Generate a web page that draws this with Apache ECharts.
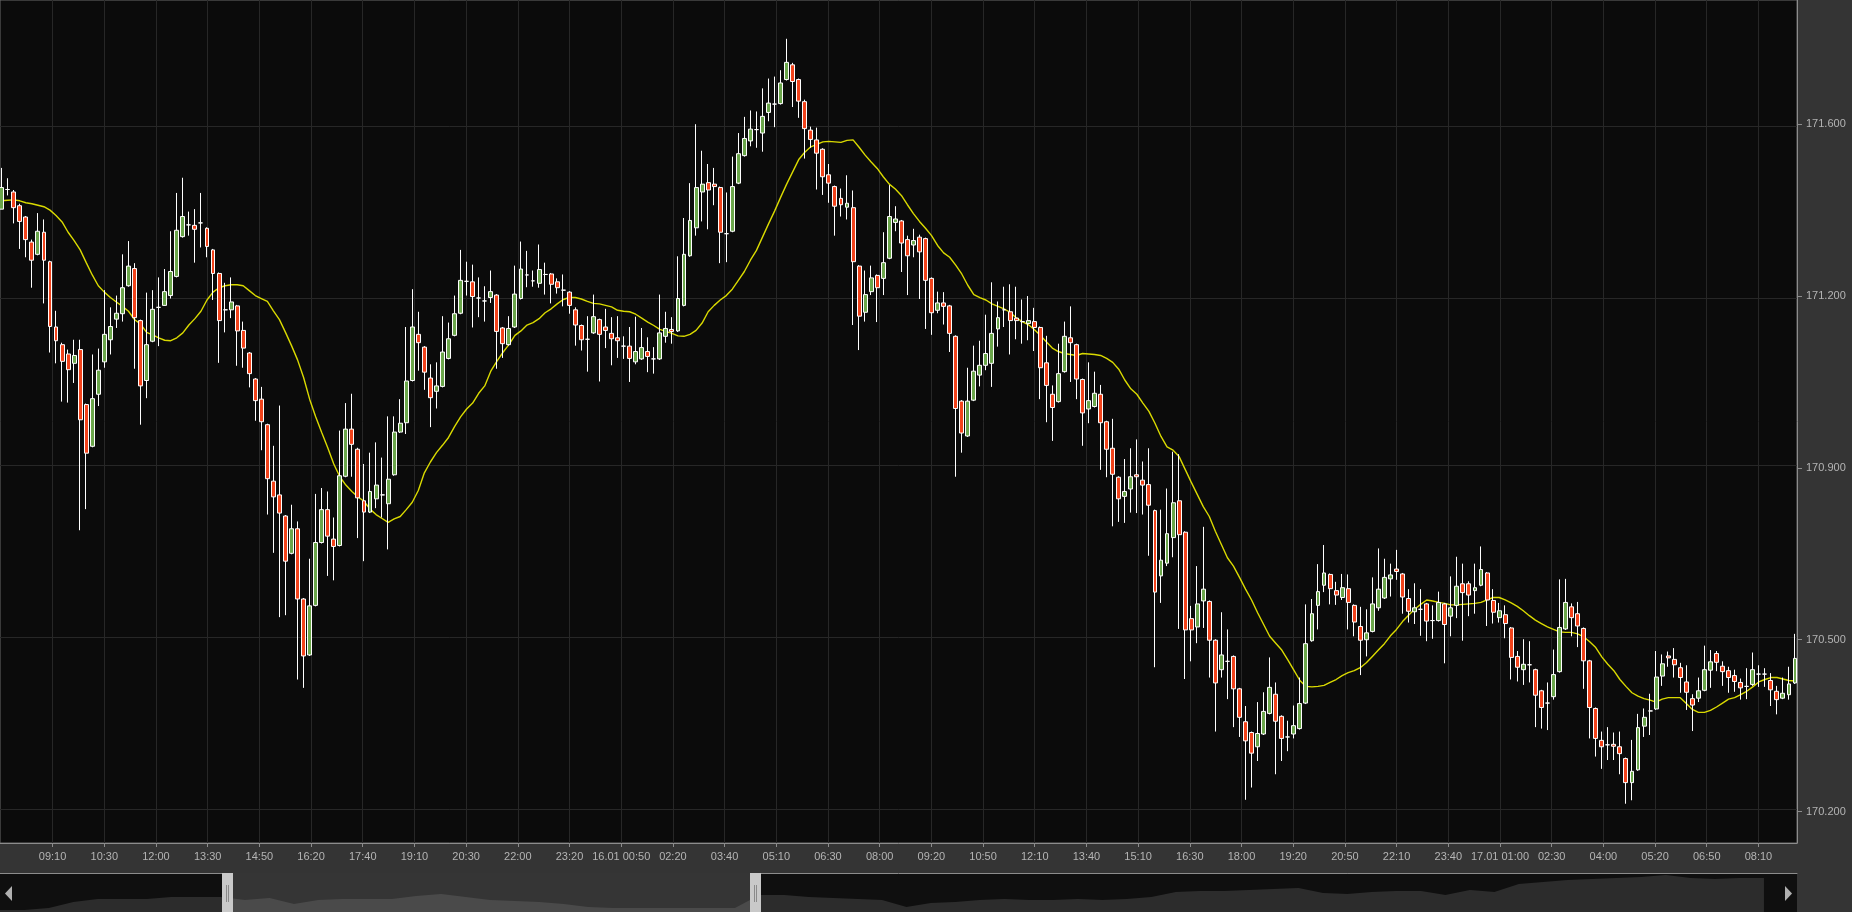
<!DOCTYPE html>
<html>
<head>
<meta charset="utf-8">
<script src="https://cdn.jsdelivr.net/npm/echarts@6/dist/echarts.min.js"></script>
<style>
html,body{margin:0;padding:0;background:#343434;overflow:hidden;}
#chart{width:1852px;height:912px;}
</style>
</head>
<body>
<div id="chart"></div>
<script>
// ---- time base: 10-minute candles starting 15.01 07:50 ----
const startTime = Date.UTC(2024, 0, 15, 7, 50);
const candleMinutes = 10;

const opens = [
171.402,171.442,171.437,171.409,171.386,171.335,171.310,171.355,171.295,171.162,
171.126,171.107,171.088,171.116,171.004,170.919,171.025,171.091,171.136,171.178,
171.189,171.246,171.281,171.175,171.053,171.133,171.202,171.206,171.226,171.265,
171.346,171.370,171.369,171.374,171.363,171.319,171.271,171.197,171.197,171.205,
171.155,171.109,171.056,171.015,170.963,170.848,170.820,170.777,170.701,170.751,
170.608,170.494,170.595,170.723,170.790,170.730,170.717,170.858,170.954,170.913,
170.808,170.785,170.812,170.820,170.802,170.861,170.948,170.967,171.053,171.147,
171.121,171.058,171.031,171.041,171.098,171.145,171.190,171.255,171.254,171.221,
171.215,171.222,171.227,171.160,171.126,171.162,171.220,171.268,171.256,171.251,
171.269,171.270,171.254,171.237,171.233,171.197,171.165,171.137,171.150,171.177,
171.162,171.149,171.140,171.123,171.123,171.091,171.097,171.112,171.097,171.097,
171.143,171.157,171.154,171.206,171.307,171.364,171.437,171.456,171.453,171.446,
171.352,171.357,171.455,171.511,171.541,171.564,171.557,171.599,171.616,171.617,
171.666,171.696,171.666,171.621,171.563,171.543,171.524,171.472,171.448,171.424,
171.406,171.405,171.286,171.192,171.234,171.267,171.261,171.302,171.375,171.378,
171.340,171.329,171.345,171.342,171.261,171.196,171.211,171.205,171.143,171.011,
170.940,171.013,171.064,171.084,171.088,171.158,171.197,171.193,171.180,171.173,
171.169,171.173,171.161,171.089,171.025,171.010,171.071,171.140,171.126,171.055,
170.995,171.000,171.025,170.969,170.915,170.856,170.817,170.832,170.861,170.850,
170.841,170.788,170.655,170.681,170.733,170.808,170.744,170.568,170.551,170.604,
170.603,170.524,170.464,170.481,170.491,170.425,170.358,170.336,170.307,170.333,
170.375,170.414,170.369,170.327,170.333,170.344,170.396,170.523,170.595,170.636,
170.658,170.625,170.611,170.629,170.595,170.552,170.525,170.542,170.590,170.610,
170.649,170.669,170.659,170.609,170.582,170.587,170.598,170.564,170.564,170.598,
170.573,170.595,170.639,170.639,170.625,170.636,170.661,170.605,170.570,170.576,
170.549,170.491,170.464,170.474,170.464,170.421,170.396,170.409,170.460,170.547,
170.592,170.578,170.548,170.482,170.385,170.320,170.311,170.312,170.307,170.283,
170.234,170.260,170.349,170.380,170.384,170.451,170.492,170.485,170.468,170.439,
170.405,170.406,170.422,170.463,170.497,170.471,170.462,170.452,170.438,170.430,
170.434,170.455,170.455,170.442,170.420,170.406,170.413,170.437
];

const closes = [
171.446,171.442,171.405,171.377,171.340,171.298,171.357,171.298,171.163,171.134,
171.092,171.075,171.104,170.973,170.905,171.016,171.074,171.147,171.163,171.190,
171.242,171.286,171.181,171.042,171.126,171.198,171.202,171.234,171.275,171.359,
171.387,171.370,171.361,171.374,171.326,171.271,171.175,171.197,171.213,171.154,
171.119,171.067,171.012,170.969,170.853,170.816,170.783,170.685,170.751,170.608,
170.492,170.594,170.723,170.790,170.736,170.715,170.859,170.954,170.923,170.814,
170.785,170.827,170.840,170.820,170.852,170.948,170.966,171.052,171.162,171.130,
171.070,171.018,171.042,171.111,171.138,171.189,171.257,171.255,171.224,171.221,
171.215,171.234,171.153,171.128,171.159,171.229,171.280,171.268,171.256,171.279,
171.269,171.249,171.242,171.237,171.206,171.166,171.136,171.137,171.183,171.147,
171.155,171.138,171.134,171.123,171.098,171.112,171.120,171.102,171.097,171.150,
171.159,171.153,171.220,171.310,171.379,171.446,171.453,171.441,171.448,171.355,
171.352,171.448,171.515,171.546,171.565,171.564,171.591,171.618,171.616,171.659,
171.701,171.662,171.622,171.566,171.544,171.516,171.468,171.455,171.408,171.411,
171.414,171.295,171.184,171.228,171.262,171.242,171.293,171.387,171.382,171.333,
171.307,171.338,171.315,171.257,171.191,171.211,171.204,171.149,170.996,170.946,
171.011,171.072,171.084,171.108,171.149,171.181,171.197,171.175,171.175,171.173,
171.175,171.161,171.079,171.043,170.998,171.067,171.143,171.130,171.056,170.987,
171.012,171.027,170.967,170.913,170.862,170.812,170.827,170.857,170.857,170.840,
170.799,170.622,170.687,170.741,170.804,170.739,170.545,170.545,170.598,170.628,
170.524,170.437,170.494,170.481,170.425,170.367,170.319,170.294,170.334,170.379,
170.428,170.359,170.324,170.327,170.350,170.395,170.517,170.578,170.623,170.661,
170.629,170.616,170.631,170.601,170.561,170.524,170.539,170.598,170.628,170.652,
170.657,170.664,170.612,170.583,170.590,170.587,170.563,170.564,170.601,170.556,
170.590,170.634,170.621,170.616,170.631,170.668,170.606,170.581,170.584,170.558,
170.489,170.469,170.475,170.474,170.412,170.387,170.396,170.454,170.550,170.601,
170.570,170.553,170.482,170.387,170.324,170.307,170.311,170.308,170.293,170.234,
170.257,170.346,170.367,170.380,170.449,170.476,170.488,170.474,170.448,170.418,
170.392,170.421,170.464,170.480,170.479,170.460,170.448,170.440,170.427,170.430,
170.464,170.455,170.455,170.423,170.403,170.416,170.435,170.487
];

const lows = [
171.402,171.430,171.373,171.321,171.304,171.242,171.308,171.210,171.110,171.088,
171.010,171.008,171.048,170.748,170.791,170.917,171.001,171.079,171.106,171.160,
171.173,171.244,171.077,170.963,171.017,171.131,171.123,171.205,171.220,171.263,
171.344,171.348,171.293,171.324,171.304,171.217,171.089,171.151,171.180,171.083,
171.079,171.039,170.971,170.911,170.780,170.702,170.571,170.575,170.699,170.444,
170.427,170.492,170.593,170.721,170.655,170.646,170.715,170.856,170.857,170.732,
170.685,170.783,170.793,170.774,170.709,170.859,170.946,170.944,171.051,171.073,
171.034,170.958,170.996,171.039,171.096,171.143,171.188,171.226,171.161,171.182,
171.173,171.211,171.077,171.099,171.124,171.160,171.218,171.243,171.244,171.242,
171.228,171.210,171.230,171.204,171.189,171.124,171.114,171.071,171.148,171.051,
171.119,171.084,171.099,171.097,171.050,171.086,171.095,171.070,171.067,171.095,
171.130,171.128,171.152,171.204,171.305,171.348,171.377,171.361,171.410,171.292,
171.294,171.355,171.453,171.509,171.530,171.527,171.519,171.581,171.569,171.615,
171.664,171.610,171.588,171.505,171.527,171.442,171.431,171.415,171.348,171.387,
171.381,171.166,171.115,171.173,171.227,171.172,171.227,171.300,171.357,171.274,
171.227,171.304,171.219,171.158,171.146,171.190,171.167,171.111,170.857,170.906,
170.938,171.011,171.041,171.074,171.040,171.122,171.162,171.106,171.137,171.128,
171.135,171.113,171.015,170.968,170.930,171.008,171.069,171.050,171.015,170.920,
170.966,170.998,170.871,170.856,170.756,170.765,170.763,170.784,170.783,170.780,
170.696,170.469,170.600,170.675,170.693,170.547,170.445,170.481,170.518,170.549,
170.448,170.338,170.448,170.404,170.347,170.327,170.199,170.224,170.278,170.331,
170.373,170.251,170.278,170.298,170.324,170.342,170.394,170.521,170.546,170.622,
170.597,170.596,170.606,170.546,170.532,170.453,170.491,170.540,170.584,170.608,
170.613,170.647,170.578,170.560,170.557,170.533,170.522,170.527,170.562,170.477,
170.532,170.569,170.523,170.573,170.578,170.634,170.553,170.558,170.560,170.528,
170.444,170.440,170.433,170.438,170.347,170.344,170.341,170.403,170.458,170.545,
170.532,170.510,170.425,170.324,170.287,170.262,170.280,170.280,170.251,170.191,
170.198,170.258,170.327,170.331,170.382,170.431,170.470,170.448,170.417,170.382,
170.339,170.398,170.420,170.427,170.461,170.431,170.417,170.419,170.403,170.404,
170.431,170.429,170.429,170.390,170.373,170.404,170.403,170.435
];

const highs = [
171.486,171.465,171.441,171.413,171.388,171.340,171.394,171.381,171.297,171.195,
171.130,171.116,171.136,171.136,171.006,171.106,171.118,171.237,171.202,171.226,
171.310,171.337,171.292,171.177,171.232,171.237,171.263,171.280,171.357,171.435,
171.466,171.397,171.402,171.435,171.365,171.321,171.273,171.252,171.263,171.207,
171.173,171.111,171.058,171.040,170.965,170.920,171.002,170.779,170.800,170.766,
170.610,170.690,170.822,170.834,170.827,170.774,170.951,171.007,171.026,170.916,
170.883,170.906,170.927,170.896,170.980,170.980,171.015,171.162,171.239,171.193,
171.123,171.086,171.090,171.184,171.171,171.226,171.319,171.295,171.289,171.263,
171.245,171.277,171.229,171.162,171.184,171.287,171.336,171.317,171.277,171.330,
171.293,171.272,171.261,171.269,171.235,171.202,171.167,171.184,171.228,171.179,
171.199,171.182,171.184,171.143,171.162,171.183,171.160,171.141,171.121,171.228,
171.193,171.182,171.306,171.384,171.455,171.575,171.521,171.494,171.486,171.448,
171.436,171.509,171.557,171.590,171.603,171.601,171.648,171.668,171.672,171.685,
171.749,171.700,171.668,171.625,171.570,171.568,171.526,171.494,171.450,171.444,
171.471,171.440,171.288,171.277,171.287,171.269,171.355,171.451,171.408,171.380,
171.348,171.362,171.350,171.344,171.263,171.234,171.233,171.207,171.145,171.013,
171.079,171.124,171.134,171.187,171.253,171.214,171.244,171.249,171.244,171.218,
171.225,171.201,171.163,171.144,171.043,171.128,171.173,171.204,171.128,171.057,
171.090,171.071,171.044,170.971,170.975,170.858,170.893,170.915,170.933,170.888,
170.915,170.790,170.790,170.833,170.908,170.903,170.746,170.594,170.675,170.755,
170.605,170.526,170.581,170.546,170.493,170.427,170.390,170.338,170.398,170.418,
170.489,170.438,170.371,170.360,170.391,170.448,170.597,170.608,170.679,170.718,
170.660,170.643,170.659,170.658,170.597,170.592,170.587,170.652,170.711,170.690,
170.680,170.708,170.661,170.628,170.640,170.628,170.600,170.595,170.623,170.600,
170.654,170.694,170.680,170.644,170.680,170.715,170.663,170.628,170.600,170.595,
170.551,170.502,170.526,170.522,170.466,170.423,170.438,170.505,170.648,170.649,
170.599,170.602,170.550,170.484,170.387,170.338,170.347,170.336,170.338,170.285,
170.321,170.374,170.385,170.415,170.502,170.495,170.501,170.508,170.478,170.473,
170.414,170.448,170.513,170.504,170.502,170.481,170.470,170.464,170.446,170.467,
170.499,170.473,170.467,170.457,170.431,170.448,170.470,170.537
];

// yellow moving-average line at each candle
const maValues = [
171.419,171.420,171.421,171.419,171.415,171.413,171.410,171.407,171.400,171.389,
171.376,171.355,171.338,171.319,171.293,171.268,171.246,171.233,171.222,171.213,
171.204,171.194,171.177,171.168,171.151,171.146,171.140,171.135,171.134,171.140,
171.150,171.166,171.179,171.194,171.217,171.233,171.242,171.246,171.248,171.248,
171.246,171.236,171.226,171.220,171.214,171.195,171.177,171.151,171.124,171.095,
171.059,171.015,170.979,170.947,170.916,170.883,170.857,170.840,170.827,170.816,
170.807,170.791,170.780,170.772,170.764,170.771,170.776,170.790,170.805,170.829,
170.865,170.887,170.906,170.921,170.937,170.959,170.979,170.995,171.007,171.027,
171.042,171.072,171.092,171.110,171.126,171.145,171.154,171.166,171.171,171.179,
171.191,171.199,171.209,171.218,171.222,171.222,171.219,171.214,171.210,171.209,
171.206,171.203,171.196,171.194,171.193,171.188,171.180,171.172,171.165,171.157,
171.153,171.149,171.144,171.143,171.147,171.155,171.170,171.193,171.206,171.217,
171.226,171.239,171.257,171.275,171.298,171.318,171.345,171.372,171.398,171.426,
171.453,171.478,171.503,171.518,171.529,171.534,171.539,171.540,171.539,171.538,
171.542,171.543,171.528,171.512,171.498,171.485,171.468,171.453,171.443,171.430,
171.411,171.393,171.377,171.363,171.348,171.328,171.313,171.304,171.288,171.270,
171.247,171.228,171.222,171.217,171.209,171.204,171.199,171.192,171.181,171.173,
171.167,171.157,171.145,171.132,171.119,171.112,171.108,171.106,171.104,171.108,
171.107,171.106,171.104,171.098,171.090,171.076,171.054,171.036,171.025,171.007,
170.990,170.966,170.939,170.918,170.911,170.898,170.872,170.846,170.821,170.796,
170.776,170.746,170.719,170.692,170.675,170.652,170.628,170.606,170.580,170.556,
170.532,170.518,170.504,170.484,170.463,170.442,170.430,170.429,170.430,170.432,
170.438,170.444,170.452,170.458,170.462,170.468,170.478,170.491,170.504,170.517,
170.533,170.546,170.562,170.575,170.587,170.597,170.606,170.604,170.601,170.599,
170.596,170.596,170.597,170.598,170.599,170.601,170.606,170.611,170.611,170.606,
170.600,170.593,170.584,170.574,170.565,170.558,170.551,170.546,170.541,170.540,
170.540,170.537,170.531,170.521,170.509,170.490,170.475,170.462,170.444,170.430,
170.417,170.410,170.405,170.402,170.398,170.404,170.407,170.407,170.407,170.395,
170.383,170.377,170.377,170.381,170.388,170.396,170.404,170.407,170.413,170.420,
170.429,170.439,170.444,170.448,170.448,170.445,170.442,170.441
];

// axis tick labels
const xTickLabels = ['09:10','10:30','12:00','13:30','14:50','16:20','17:40','19:10','20:30','22:00','23:20',
  '16.01 00:50','02:20','03:40','05:10','06:30','08:00','09:20','10:50','12:10','13:40','15:10','16:30',
  '18:00','19:20','20:50','22:10','23:40','17.01 01:00','02:30','04:00','05:20','06:50','08:10'];
const xTickFirstMinutes = 84.3;   // first label's tick, minutes after first candle
const xTickStepMinutes = 85.61;   // label spacing in minutes
const yTickValues = [170.175, 170.525, 170.875, 171.225, 171.575];
const yTickLabels = ['170.200', '170.500', '170.900', '171.200', '171.600'];

// navigator (scroller) history level and selected range
const navigatorValues = [2,2,4,10,13,13,13,15,15,15,12,14,8,12,13,13,13,16,18,15,12,11,10,8,5,4,4,4,4,4,
  4,17,17,15,14,13,12,5,9,10,12,13,12,12,13,12,13,15,20,21,21,22,23,24,19,18,20,21,21,17,
  22,20,28,30,32,33,34,35,37,34,33,34,34];
const navigatorRange = [9.26, 30.84];

const MIN = 60000;
const times = opens.map((_, i) => startTime + i * candleMinutes * MIN);
const candleData = times.map((t, i) => [t, opens[i], closes[i], lows[i], highs[i]]);
const maData = times.map((t, i) => [t, maValues[i]]);
const xTickValues = xTickLabels.map((_, k) => startTime + (xTickFirstMinutes + k * xTickStepMinutes) * MIN);
const navData = navigatorValues.map((v, k) => [k, v]);

function nearestIndex(arr, v) {
  let best = 0, bd = Infinity;
  arr.forEach((a, i) => { const d = Math.abs(a - v); if (d < bd) { bd = d; best = i; } });
  return best;
}

const axisGray = '#8c8c8c';
const labelGray = '#b4b4b4';
const gridLine = '#272727';
const font = '"Liberation Sans", Arial, sans-serif';

const chart = echarts.init(document.getElementById('chart'), null, {renderer: 'canvas'});
chart.setOption({
  backgroundColor: '#343434',
  animation: false,
  grid: [
    {left: 0, top: 0, width: 1797, height: 843, show: true, backgroundColor: '#0b0b0b', borderColor: '#6a6a6a', borderWidth: 1},
    {left: 0, top: 873, width: 1797, height: 39, show: true, backgroundColor: '#0f0f0f', borderWidth: 0}
  ],
  xAxis: [
    {
      type: 'value', gridIndex: 0, scale: true,
      min: startTime - 2.8 * MIN, max: startTime + 2973.3 * MIN,
      axisLine: {show: true, onZero: false, lineStyle: {color: axisGray, width: 1}},
      axisTick: {show: true, length: 4, lineStyle: {color: axisGray}, customValues: xTickValues},
      axisLabel: {
        customValues: xTickValues,
        formatter: v => xTickLabels[nearestIndex(xTickValues, v)],
        color: labelGray, fontSize: 11, fontFamily: font, margin: 8
      },
      splitLine: {show: false}
    },
    {
      type: 'value', gridIndex: 1, min: 0, max: 73.35, position: 'top',
      axisLine: {show: true, onZero: false, lineStyle: {color: axisGray}},
      axisTick: {show: false}, axisLabel: {show: false}, splitLine: {show: false}
    }
  ],
  yAxis: [
    {
      type: 'value', gridIndex: 0, position: 'right', scale: true,
      min: 170.111, max: 171.828,
      axisLine: {show: true, onZero: false, lineStyle: {color: axisGray}},
      axisTick: {show: true, length: 5, inside: false, lineStyle: {color: axisGray}, customValues: yTickValues},
      axisLabel: {
        customValues: yTickValues,
        formatter: v => yTickLabels[nearestIndex(yTickValues, v)],
        color: labelGray, fontSize: 11, fontFamily: font, margin: 9
      },
      splitLine: {show: false}
    },
    {type: 'value', gridIndex: 1, min: 0, max: 39, show: false}
  ],
  visualMap: [{
    type: 'piecewise', show: false, seriesIndex: 2, dimension: 0,
    pieces: [
      {lt: navigatorRange[0], color: '#2c2c2c'},
      {gte: navigatorRange[0], lte: navigatorRange[1], color: '#4a4a4a'},
      {gt: navigatorRange[1], color: '#2c2c2c'}
    ]
  }],
  series: [
    {
      name: 'MA', type: 'line', xAxisIndex: 0, yAxisIndex: 0, data: maData,
      symbol: 'none', smooth: false, z: 2, silent: true,
      lineStyle: {color: '#dada00', width: 1.4},
      // grid lines at the axis ticks
      markLine: {
        silent: true, z: 1, symbol: ['none', 'none'], animation: false,
        label: {show: false},
        lineStyle: {color: gridLine, width: 1, type: 'solid'},
        data: xTickValues.map(v => ({xAxis: v})).concat(yTickValues.map(v => ({yAxis: v})))
      }
    },
    {
      name: 'Price', type: 'candlestick', xAxisIndex: 0, yAxisIndex: 0, data: candleData,
      barWidth: 4.4, z: 3, clip: true, silent: true,
      itemStyle: {
        color: '#6ba64b', color0: '#f2431b',
        borderColor: '#ffffff', borderColor0: '#ffffff', borderColorDoji: '#ffffff',
        borderWidth: 1
      }
    },
    {
      name: 'Navigator', type: 'line', xAxisIndex: 1, yAxisIndex: 1, data: navData,
      symbol: 'none', silent: true, z: 2,
      lineStyle: {opacity: 0, width: 0},
      areaStyle: {opacity: 1},
      markArea: {
        silent: true, z: 1,
        itemStyle: {color: '#353535'},
        data: [[{xAxis: navigatorRange[0]}, {xAxis: navigatorRange[1]}]]
      },
      markLine: {
        silent: true, symbol: ['none', 'none'], z: 5,
        label: {show: false},
        lineStyle: {color: '#c9c9c9', width: 11, type: 'solid', opacity: 1},
        data: [
          {xAxis: navigatorRange[0]},
          {xAxis: navigatorRange[1]},
          [{coord: [navigatorRange[0] - 0.045, 10]}, {coord: [navigatorRange[0] - 0.045, 27], lineStyle: {color: '#8a8a8a', width: 1}}],
          [{coord: [navigatorRange[0] + 0.045, 10]}, {coord: [navigatorRange[0] + 0.045, 27], lineStyle: {color: '#8a8a8a', width: 1}}],
          [{coord: [navigatorRange[1] - 0.045, 10]}, {coord: [navigatorRange[1] - 0.045, 27], lineStyle: {color: '#8a8a8a', width: 1}}],
          [{coord: [navigatorRange[1] + 0.045, 10]}, {coord: [navigatorRange[1] + 0.045, 27], lineStyle: {color: '#8a8a8a', width: 1}}]
        ]
      }
    }
  ],
  graphic: [
    {type: 'polygon', z: 100, silent: true, shape: {points: [[12, 886], [5, 893.5], [12, 901]]}, style: {fill: '#b0b0b0'}},
    {type: 'polygon', z: 100, silent: true, shape: {points: [[1785, 886], [1792, 893.5], [1785, 901]]}, style: {fill: '#b0b0b0'}}
  ]
});
</script>
</body>
</html>
